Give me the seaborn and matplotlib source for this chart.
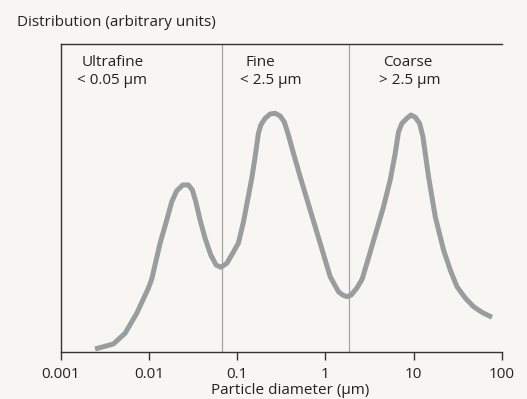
import matplotlib
matplotlib.use("Agg")
import matplotlib.pyplot as plt
import matplotlib.transforms as mtransforms
import seaborn as sns
import pandas as pd

# Data (particle diameter in µm, distribution in arbitrary units)
diameter = [0.00245, 0.00395, 0.00536, 0.00727, 0.00984, 0.01076, 0.01336, 0.01591, 0.01814,
            0.02067, 0.02416, 0.02797, 0.03105, 0.03393, 0.03797, 0.04326, 0.05019, 0.05764,
            0.06518, 0.07623, 0.09055, 0.1032, 0.1176, 0.1312, 0.1464, 0.1595, 0.1739, 0.1851,
            0.2071, 0.2360, 0.2690, 0.3065, 0.3401, 0.3708, 0.4337, 0.5166, 0.6708, 0.8709,
            1.131, 1.404, 1.567, 1.748, 1.956, 2.270, 2.607, 3.213, 4.546, 5.415, 6.170, 6.726,
            7.348, 8.372, 9.297, 10.40, 11.64, 12.72, 13.50, 14.72, 17.53, 21.77, 25.93, 30.89,
            38.36, 47.64, 59.80, 77.01]
distribution = [3, 8, 18.7, 38.7, 63.7, 73, 108.7, 132, 150.3,
                161.3, 167, 167, 162, 150.3, 132, 113.7, 97, 87,
                84.7, 88.7, 100, 109, 130, 152, 174, 195.3, 218.7, 227,
                233.7, 238, 238.7, 236, 230.3, 220.3, 198.7, 175.3, 142, 108.7,
                75.3, 60.3, 57, 55.3, 57, 64, 73, 100, 145.3, 172, 198.7, 220.3,
                228.7, 233.7, 237, 234.7, 228.7, 215.3, 198.7, 175.3, 135.3, 102, 82, 65.3,
                54, 45.3, 39.5, 34.7]
boundaries = [0.0668, 1.84]
region_names = ["Ultrafine", "Fine", "Coarse"]
region_ranges = ["< 0.05 µm", "< 2.5 µm", "> 2.5 µm"]
region_left = [0.00152, 0.108, 3.99]   # left edge of the range labels (data x)
tick_values = [0.001, 0.01, 0.1, 1, 10, 100]
tick_labels = ["0.001", "0.01", "0.1", "1", "10", "100"]

sns.set_style("ticks")
bg = "#f7f6f3"
plt.rcParams["font.family"] = ["Open Sans", "DejaVu Sans"]

W, H = 527, 399
fig = plt.figure(figsize=(W / 100, H / 100), dpi=100, facecolor=bg)
L, R, B, T = 60.7, 502, 352, 44
ax = fig.add_axes([L / W, (H - B) / H, (R - L) / W, (B - T) / H])
ax.set_facecolor(bg)

df = pd.DataFrame({"d": diameter, "v": distribution})
sns.lineplot(data=df, x="d", y="v", ax=ax, color="#9a9d9d", linewidth=3.6,
             solid_joinstyle="round", solid_capstyle="butt", sort=False)

ax.set_xscale("log")
ax.set_xlim(0.001, 100)
ax.set_ylim(0, 308)

for b in boundaries:
    ax.axvline(b, color="#a3a3a3", linewidth=0.9, zorder=1)

ax.set_xticks(tick_values)
ax.set_xticklabels(tick_labels, fontsize=11, color="#222222")
ax.minorticks_off()
ax.set_yticks([])
ax.tick_params(axis="x", direction="out", length=6, width=1, color="#333333", pad=5)
ax.set_xlabel("")
ax.set_ylabel("")

for s in ["left", "bottom", "top"]:
    ax.spines[s].set_color("#333333")
    ax.spines[s].set_linewidth(1)
ax.spines["right"].set_visible(False)

fig.text(17 / W, 1 - 22 / H, "Distribution (arbitrary units)", fontsize=11,
         ha="left", va="center", color="#222222")
fig.text(290 / W, 1 - 391 / H, "Particle diameter (µm)", fontsize=11,
         ha="center", va="center", color="#222222")

trans = mtransforms.blended_transform_factory(ax.transData, fig.transFigure)
off = mtransforms.offset_copy(trans, fig=fig, x=5, y=0, units="dots")
for name, rng_label, xl in zip(region_names, region_ranges, region_left):
    ax.text(xl, 1 - 62 / H, name, transform=off, fontsize=11, ha="left", va="center",
            color="#222222")
    ax.text(xl, 1 - 81 / H, rng_label, transform=trans, fontsize=11, ha="left",
            va="center", color="#222222")

fig.savefig("out.png", dpi=100, facecolor=bg)
